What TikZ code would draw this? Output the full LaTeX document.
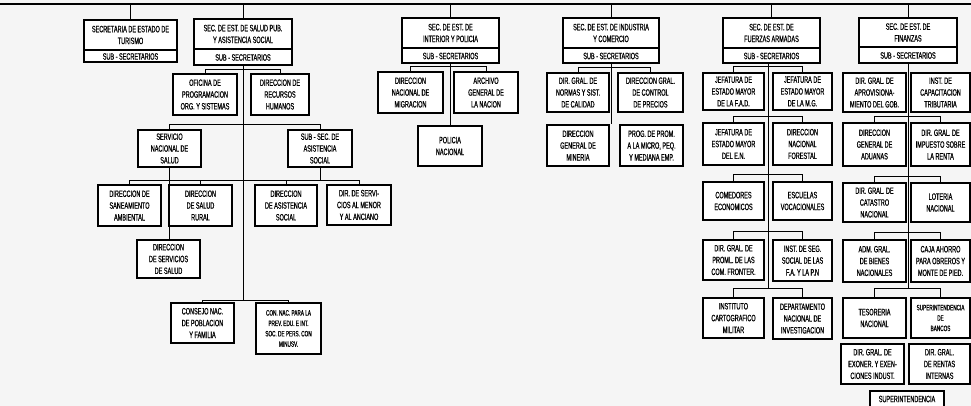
\documentclass[tikz,border=0pt]{standalone}
\usepackage{fontspec}
\newfontfamily\cf[FakeStretch=0.6,FakeBold=0.6]{Liberation Sans}
\tikzset{
  bx/.style={draw, fill=white, line width=1.3pt, inner sep=0pt, align=center,
    font=\cf\fontsize{9.2}{11.8}\selectfont},
  txt/.style={inner sep=0pt, align=center, font=\cf\fontsize{9.2}{11.8}\selectfont},
  sm/.style={font=\cf\fontsize{7.8}{10.4}\selectfont},
  ln/.style={line width=1pt},
}
\newcommand\obx[7][]{\node[bx,#1,minimum width=#5pt-#3pt,minimum height=#6pt-#4pt] (#2) at ({(#3+#5)/2},{(#4+#6)/2}) {#7};}
\newcommand\hdbx[7]{%
  \node[bx,minimum width=#4pt-#2pt,minimum height=#5pt-#3pt] (#1) at ({(#2+#4)/2},{(#3+#5)/2}) {};
  \draw[line width=1.1pt] (#1.west |- 0,#6) -- (#1.east |- 0,#6);
  \node[txt] (#1t) at ({(#2+#4)/2},{(#3+#6)/2}) {#7};
  \node[txt] (#1s) at ({(#2+#4)/2},{(#6+#5)/2+0.5}) {SUB - SECRETARIOS};}
\newcommand\brk[3]{\draw[ln] (#1.north) -- (#1.north |- 0,#3) -| (#2.north);}
\begin{document}
\begin{tikzpicture}[x=1pt,y=-1pt]
\useasboundingbox (0,0) rectangle (971,406);
\clip (0,0) rectangle (971,406);
\fill[black!4] (0,0) rectangle (971,406);
% top line
\coordinate (tl) at (0,4);
\coordinate (tr) at (971,4);
\draw[line width=1.6pt] (tl) -- (tr);
% headers
\hdbx{tur}{84}{20}{177}{62}{50}{SECRETARIA DE ESTADO DE\\TURISMO}
\hdbx{sal}{194}{19}{292}{65}{49}{SEC. DE EST. DE SALUD PUB.\\Y ASISTENCIA SOCIAL}
\hdbx{int}{402}{18}{499}{63}{48}{SEC. DE EST. DE\\INTERIOR Y POLICIA}
\hdbx{ind}{563}{18}{659}{63}{48}{SEC. DE EST. DE INDUSTRIA\\Y COMERCIO}
\hdbx{ffaa}{723}{18}{820}{63}{48}{SEC. DE EST. DE\\FUERZAS ARMADAS}
\hdbx{fin}{859}{18}{957}{63}{47}{SEC. DE EST. DE\\FINANZAS}
\foreach \h in {tur,sal,int,ind,ffaa,fin} {\draw[ln] (\h.north) -- (\h.north |- tl);}
% Salud
\obx{ofi}{173}{74}{237}{115}{OFICINA DE\\PROGRAMACION\\ORG. Y SISTEMAS}
\obx{rrhh}{251}{74}{309}{115}{DIRECCION DE\\RECURSOS\\HUMANOS}
\obx{sns}{138}{130}{201}{167}{SERVICIO\\NACIONAL DE\\SALUD}
\obx{ssas}{288}{130}{352}{167}{SUB - SEC. DE\\ASISTENCIA\\SOCIAL}
\obx{san}{98}{185}{161}{226}{DIRECCION DE\\SANEAMIENTO\\AMBIENTAL}
\obx{rur}{169}{185}{232}{226}{DIRECCION\\DE SALUD\\RURAL}
\obx{das}{255}{185}{317}{226}{DIRECCION\\DE ASISTENCIA\\SOCIAL}
\obx{dme}{327}{185}{391}{225}{DIR. DE SERVI-\\CIOS AL MENOR\\Y AL ANCIANO}
\obx{dss}{137}{240}{200}{278}{DIRECCION\\DE SERVICIOS\\DE SALUD}
\obx{cnp}{171}{303}{234}{343}{CONSEJO NAC.\\DE POBLACION\\Y FAMILIA}
\obx[sm]{cnm}{256}{303}{321}{354}{CON. NAC. PARA LA\\PREV. EDU. E INT.\\SOC. DE PERS. CON\\MINUSV.}
\coordinate (salb) at (243,300);
\draw[ln] (sal.south) -- (sal.south |- salb);
\brk{ofi}{rrhh}{70}
\brk{sns}{ssas}{125}
\draw[ln] (sns.south) -- (sns.south |- dss.north);
\draw[ln] (ssas.south) -- (ssas.south |- 0,181);
\draw[ln] (san.north) -- (san.north |- 0,181) -| (dme.north);
\draw[ln] (rur.north) -- (rur.north |- 0,181);
\draw[ln] (das.north) -- (das.north |- 0,181);
\brk{cnp}{cnm}{300}
% Interior
\obx{mig}{378}{72}{443}{113}{DIRECCION\\NACIONAL DE\\MIGRACION}
\obx{arc}{454}{72}{518}{113}{ARCHIVO\\GENERAL DE\\LA NACION}
\obx{pol}{418}{126}{482}{166}{POLICIA\\NACIONAL}
\draw[ln] (int.south) -- (int.south |- pol.north);
\brk{mig}{arc}{67}
% Industria
\obx{nor}{547}{73}{609}{112}{DIR. GRAL. DE\\NORMAS Y SIST.\\DE CALIDAD}
\obx{pre}{618}{73}{683}{112}{DIRECCION GRAL.\\DE CONTROL\\DE PRECIOS}
\obx{min}{547}{125}{609}{166}{DIRECCION\\GENERAL DE\\MINERIA}
\obx{pro}{620}{125}{683}{166}{PROG. DE PROM.\\A LA MICRO, PEQ.\\Y MEDIANA EMP.}
\draw[ln] (ind.south) -- (ind.south |- min.north);
\brk{nor}{pre}{68}
% Fuerzas Armadas
\obx{fad}{703}{73}{764}{110}{JEFATURA DE\\ESTADO MAYOR\\DE LA F.A.D.}
\obx{mg}{773}{73}{832}{110}{JEFATURA DE\\ESTADO MAYOR\\DE LA M.G.}
\obx{en}{703}{123}{764}{165}{JEFATURA DE\\ESTADO MAYOR\\DEL E.N.}
\obx{for}{773}{123}{832}{165}{DIRECCION\\NACIONAL\\FORESTAL}
\obx{com}{703}{182}{764}{220}{COMEDORES\\ECONOMICOS}
\obx{esc}{773}{182}{832}{220}{ESCUELAS\\VOCACIONALES}
\obx{fro}{703}{240}{764}{280}{DIR. GRAL. DE\\PROML. DE LAS\\COM. FRONTER.}
\obx{iss}{773}{240}{832}{281}{INST. DE SEG.\\SOCIAL DE LAS\\F.A. Y LA P.N}
\obx{icm}{703}{298}{764}{338}{INSTITUTO\\CARTOGRAFICO\\MILITAR}
\obx{dni}{773}{298}{832}{339}{DEPARTAMENTO\\NACIONAL DE\\INVESTIGACION}
\coordinate (fav) at (768.5,288);
\draw[line width=1.8pt] (ffaa.south -| fav) -- (fav);
\brk{fad}{mg}{67}
\brk{en}{for}{117}
\brk{com}{esc}{175}
\brk{fro}{iss}{231}
\brk{icm}{dni}{288}
% Finanzas
\obx{apr}{843}{73}{906}{112}{DIR. GRAL. DE\\APROVISIONA-\\MIENTO DEL GOB.}
\obx{cap}{911}{73}{970}{112}{INST. DE\\CAPACITACION\\TRIBUTARIA}
\obx{adu}{843}{123}{906}{166}{DIRECCION\\GENERAL DE\\ADUANAS}
\obx{isr}{911}{123}{970}{166}{DIR. GRAL. DE\\IMPUESTO SOBRE\\LA RENTA}
\obx{cat}{843}{183}{906}{222}{DIR. GRAL. DE\\CATASTRO\\NACIONAL}
\obx{lot}{911}{183}{970}{222}{LOTERIA\\NACIONAL}
\obx{bie}{843}{240}{906}{282}{ADM. GRAL.\\DE BIENES\\NACIONALES}
\obx{caj}{911}{240}{970}{282}{CAJA AHORRO\\PARA OBREROS Y\\MONTE DE PIED.}
\obx{tes}{843}{298}{906}{338}{TESORERIA\\NACIONAL}
\obx[sm]{sup}{911}{298}{970}{338}{SUPERINTENDENCIA\\DE\\BANCOS}
\obx{exo}{841}{344}{904}{384}{DIR. GRAL. DE\\EXONER. Y EXEN-\\CIONES INDUST.}
\obx{ren}{909}{344}{970}{384}{DIR. GRAL.\\DE RENTAS\\INTERNAS}
\obx{sup2}{870}{391}{944}{420}{}
\node[txt] (sup2t) at (907,399) {SUPERINTENDENCIA};
\coordinate (fiv) at (908,288);
\draw[ln] (fin.south -| fiv) -- (fiv);
\brk{adu}{isr}{117}
\brk{cat}{lot}{177}
\brk{bie}{caj}{232}
\brk{tes}{sup}{288}
\end{tikzpicture}
\end{document}
